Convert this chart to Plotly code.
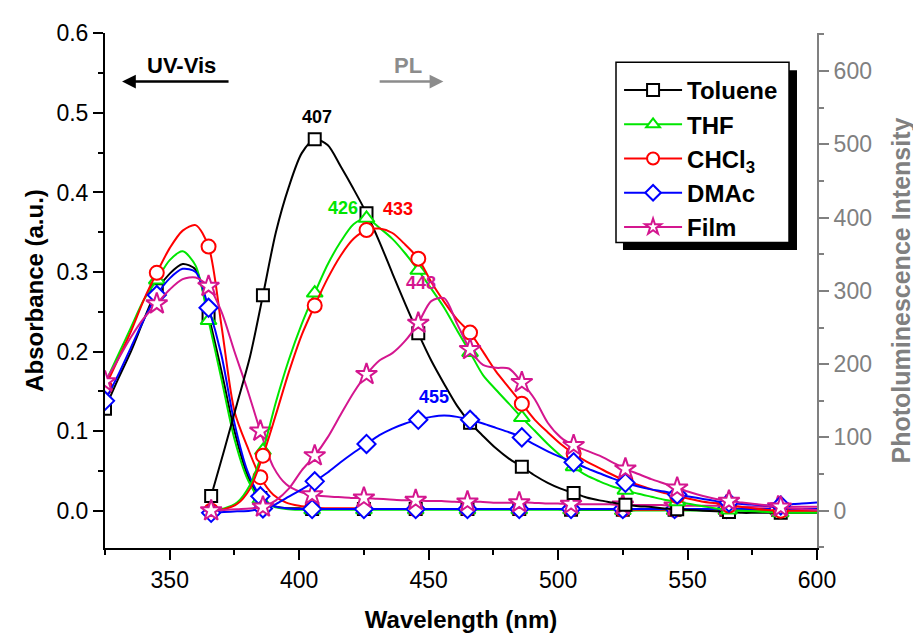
import plotly.graph_objects as go

# ---------------- data ----------------
uv_wavelength = [325, 330, 335, 340, 345, 350, 355, 360, 365, 370,
                 375, 380, 385, 390, 395, 400, 405, 410, 415, 420,
                 425, 430, 435, 440, 445, 450, 455, 460, 465, 470,
                 475, 480, 485, 490, 495, 500, 505, 510, 515, 520,
                 525, 530, 535, 540, 545, 550, 555, 560, 565, 570,
                 575, 580, 585, 590, 595, 600]

pl_wavelength = [366, 371, 376, 381, 386, 391, 396, 401, 406, 411,
                 416, 421, 426, 431, 436, 441, 446, 451, 456, 461,
                 466, 471, 476, 481, 486, 491, 496, 501, 506, 511,
                 516, 521, 526, 531, 536, 541, 546, 551, 556, 561,
                 566, 571, 576, 581, 586, 591, 596, 600]

uv_toluene = [0.128, 0.165, 0.200, 0.240, 0.277, 0.298, 0.310, 0.303, 0.245, 0.175,
              0.100, 0.045, 0.016, 0.006, 0.003, 0.003, 0.002, 0.002, 0.002, 0.002,
              0.002, 0.002, 0.002, 0.002, 0.002, 0.002, 0.002, 0.002, 0.002, 0.002,
              0.002, 0.002, 0.002, 0.002, 0.002, 0.002, 0.001, 0.001, 0.001, 0.001,
              0.001, 0.001, 0.001, 0.001, 0.001, 0.001, 0.001, 0.001, 0.001, 0.001,
              0.001, 0.001, 0.001, 0.001, 0.001, 0.001]
uv_thf = [0.160, 0.195, 0.230, 0.265, 0.290, 0.315, 0.326, 0.308, 0.239, 0.165,
          0.090, 0.040, 0.014, 0.005, 0.002, 0.001, 0.001, 0.001, 0.001, 0.001,
          0.001, 0.001, 0.001, 0.001, 0.001, 0.001, 0.001, 0.001, 0.001, 0.001,
          0.001, 0.001, 0.001, 0.001, 0.001, 0.001, 0.001, 0.001, 0.001, 0.001,
          0.000, 0.000, 0.000, 0.000, 0.000, 0.000, 0.000, 0.000, 0.000, 0.000,
          0.000, 0.000, 0.000, 0.000, 0.000, 0.000]
uv_chcl3 = [0.155, 0.190, 0.225, 0.265, 0.299, 0.330, 0.352, 0.359, 0.332, 0.232,
            0.125, 0.080, 0.042, 0.020, 0.010, 0.006, 0.004, 0.003, 0.003, 0.003,
            0.003, 0.002, 0.002, 0.002, 0.002, 0.002, 0.002, 0.002, 0.002, 0.002,
            0.002, 0.002, 0.002, 0.002, 0.002, 0.002, 0.002, 0.002, 0.002, 0.002,
            0.001, 0.001, 0.001, 0.001, 0.001, 0.001, 0.001, 0.001, 0.001, 0.001,
            0.001, 0.001, 0.001, 0.001, 0.001, 0.001]
uv_dmac = [0.138, 0.170, 0.205, 0.240, 0.271, 0.292, 0.304, 0.300, 0.255, 0.195,
           0.110, 0.050, 0.018, 0.006, 0.003, 0.002, 0.002, 0.002, 0.002, 0.002,
           0.002, 0.002, 0.002, 0.002, 0.002, 0.002, 0.002, 0.002, 0.002, 0.002,
           0.002, 0.002, 0.002, 0.002, 0.002, 0.002, 0.002, 0.002, 0.002, 0.002,
           0.002, 0.002, 0.002, 0.002, 0.002, 0.002, 0.002, 0.002, 0.002, 0.002,
           0.002, 0.002, 0.002, 0.002, 0.002, 0.002]
uv_film = [0.162, 0.190, 0.218, 0.242, 0.260, 0.278, 0.291, 0.293, 0.282, 0.250,
           0.200, 0.152, 0.100, 0.055, 0.033, 0.024, 0.020, 0.018, 0.017, 0.016,
           0.016, 0.015, 0.014, 0.013, 0.013, 0.012, 0.012, 0.011, 0.011, 0.011,
           0.010, 0.010, 0.010, 0.010, 0.009, 0.009, 0.008, 0.008, 0.008, 0.008,
           0.007, 0.007, 0.007, 0.007, 0.006, 0.006, 0.006, 0.006, 0.006, 0.005,
           0.005, 0.005, 0.005, 0.005, 0.005, 0.005]

pl_toluene = [20, 82, 146, 210, 294, 380, 442, 488, 507, 499,
              470, 439, 406, 367, 324, 282, 242, 205, 173, 143,
              120, 102, 85, 71, 60, 48, 38, 30, 24, 18,
              14, 11, 8, 6, 5, 3, 2, 1, 0, -1,
              -2, -3, -3, -3, -3, -3, -3, -3]
pl_thf = [0, 3, 11, 35, 82, 148, 206, 255, 297, 336,
          367, 391, 399, 386, 371, 351, 328, 303, 277, 246,
          216, 185, 165, 146, 127, 109, 91, 75, 60, 48,
          40, 33, 28, 23, 19, 15, 12, 9, 6, 3,
          1, 0, -1, -2, -3, -3, -3, -3]
pl_chcl3 = [0, 2, 9, 30, 75, 131, 189, 240, 280, 317,
            348, 371, 383, 385, 379, 363, 344, 312, 285, 261,
            243, 217, 190, 168, 146, 124, 107, 91, 78, 67,
            58, 49, 41, 35, 29, 24, 20, 16, 12, 10,
            7, 5, 3, 1, 0, 0, 0, 0]
pl_dmac = [-3, -2, -1, 0, 3, 9, 19, 29, 40, 52,
           66, 79, 91, 103, 112, 119, 124, 128, 130, 128,
           124, 119, 113, 107, 100, 90, 81, 73, 66, 58,
           51, 44, 38, 33, 29, 26, 22, 19, 16, 13,
           11, 9, 8, 7, 7, 9, 10, 11]
pl_film = [0, 1, 2, 3, 5, 14, 30, 55, 75, 100,
           131, 161, 186, 205, 215, 232, 256, 286, 290, 255,
           220, 199, 195, 194, 175, 152, 120, 100, 89, 82,
           75, 66, 57, 50, 43, 37, 31, 25, 20, 16,
           13, 11, 9, 7, 5, 3, 2, 1]

series_names = ["Toluene", "THF", "CHCl<sub>3</sub>", "DMAc", "Film"]
peak_labels = ["407", "426", "433", "455", "448"]
peak_wavelengths = [407, 417, 438, 452, 447]
peak_intensities = [537, 413, 412, 155, 311]

# ---------------- styles ----------------
colors = ["#000000", "#00e600", "#ff0000", "#0000ff", "#d4168f"]
symbols = ["square", "triangle-up", "circle", "diamond", "star"]
msizes = [12, 14, 14, 14, 16]
uv_series = [uv_toluene, uv_thf, uv_chcl3, uv_dmac, uv_film]
pl_series = [pl_toluene, pl_thf, pl_chcl3, pl_dmac, pl_film]

FONT = "Liberation Sans, Arial, sans-serif"
GRAY = "#808080"

fig = go.Figure()

for i in range(5):
    c = colors[i]
    mk = dict(symbol=symbols[i], size=msizes[i], color="white",
              line=dict(color=c, width=2))
    # UV-Vis (left axis)
    fig.add_trace(go.Scatter(x=uv_wavelength, y=uv_series[i], mode="lines",
                             line=dict(color=c, width=2, shape="spline", smoothing=0.8),
                             showlegend=False, hoverinfo="skip"))
    fig.add_trace(go.Scatter(x=uv_wavelength[0::4], y=uv_series[i][0::4], mode="markers",
                             marker=mk, showlegend=False, hoverinfo="skip"))
    # PL (right axis)
    fig.add_trace(go.Scatter(x=pl_wavelength, y=pl_series[i], mode="lines", yaxis="y2",
                             line=dict(color=c, width=2, shape="spline", smoothing=0.8),
                             showlegend=False, hoverinfo="skip"))
    fig.add_trace(go.Scatter(x=pl_wavelength[0:45:4], y=pl_series[i][0:45:4], mode="markers",
                             yaxis="y2", marker=mk, showlegend=False, hoverinfo="skip"))

# legend entries
for i in range(5):
    fig.add_trace(go.Scatter(x=[None], y=[None], mode="lines+markers", name=series_names[i],
                             line=dict(color=colors[i], width=2),
                             marker=dict(symbol=symbols[i], size=12, color="white",
                                         line=dict(color=colors[i], width=2))))

annotations = [
    dict(x=354.4, y=0.5595, xref="x", yref="y", text="<b>UV-Vis</b>", showarrow=False,
         font=dict(size=22, color="black", family=FONT)),
    dict(x=331.6, y=0.5395, xref="x", yref="y", ax=373.3, ay=0.5395, axref="x", ayref="y",
         text="", showarrow=True, arrowhead=2, arrowsize=1.1, arrowwidth=2.5,
         arrowcolor="black", standoff=0, startstandoff=0),
    dict(x=442, y=0.5595, xref="x", yref="y", text="<b>PL</b>", showarrow=False,
         font=dict(size=22, color="#8c8c8c", family=FONT)),
    dict(x=455.7, y=0.5395, xref="x", yref="y", ax=430.5, ay=0.5395, axref="x", ayref="y",
         text="", showarrow=True, arrowhead=2, arrowsize=1.1, arrowwidth=2.5,
         arrowcolor="#8c8c8c", standoff=0, startstandoff=0),
]
for i in range(5):
    annotations.append(dict(x=peak_wavelengths[i], y=peak_intensities[i], xref="x", yref="y2",
                            text="<b>%s</b>" % peak_labels[i], showarrow=False,
                            font=dict(size=18, color=colors[i], family=FONT)))

# legend frame + shadow (paper coords)
shapes = [
    dict(type="rect", xref="paper", yref="paper", x0=0.7275, x1=0.9719, y0=0.5787, y1=0.9279,
         fillcolor="black", line=dict(width=0), layer="above"),
    dict(type="rect", xref="paper", yref="paper", x0=0.7177, x1=0.9607, y0=0.5930, y1=0.9431,
         fillcolor="white", line=dict(color="black", width=1.5), layer="above"),
]

axis_common = dict(showgrid=False, zeroline=False, showline=True, linewidth=2,
                   ticks="outside", ticklen=10, tickwidth=2)

fig.update_layout(
    width=921, height=633,
    # the page body adds an 8px offset; margins compensate so the plot lands where the reference has it
    margin=dict(l=97, r=112, t=16, b=90),
    plot_bgcolor="white", paper_bgcolor="white",
    font=dict(family=FONT, size=23, color="black"),
    showlegend=True,
    legend=dict(x=0.722, y=0.932, xanchor="left", yanchor="top",
                bgcolor="rgba(0,0,0,0)", borderwidth=0,
                font=dict(size=24, family=FONT, color="black", weight="bold"),
                tracegroupgap=0, itemwidth=58),
    xaxis=dict(range=[325, 600], tick0=350, dtick=50, linecolor="black", tickcolor="black",
               minor=dict(dtick=25, tick0=325, ticklen=5, tickwidth=2, ticks="outside",
                          tickcolor="black"),
               title=dict(text="<b>Wavelength (nm)</b>", font=dict(size=24), standoff=20),
               **axis_common),
    yaxis=dict(range=[-0.047, 0.6005], tick0=0, dtick=0.1, tickformat=".1f",
               linecolor="black", tickcolor="black",
               minor=dict(dtick=0.05, tick0=0, ticklen=5, tickwidth=2, ticks="outside",
                          tickcolor="black"),
               title=dict(text="<b>Absorbance (a.u.)</b>", font=dict(size=24), standoff=6),
               **axis_common),
    yaxis2=dict(range=[-51, 652], tick0=0, dtick=100, overlaying="y", side="right",
                linecolor=GRAY, tickcolor=GRAY, tickfont=dict(color=GRAY),
                minor=dict(dtick=50, tick0=0, ticklen=5, tickwidth=2, ticks="outside",
                           tickcolor=GRAY),
                title=dict(text="<b>Photoluminescence Intensity</b>",
                           font=dict(size=25, color=GRAY), standoff=22),
                **axis_common),
    annotations=annotations,
    shapes=shapes,
)

fig.write_html("out.html")
